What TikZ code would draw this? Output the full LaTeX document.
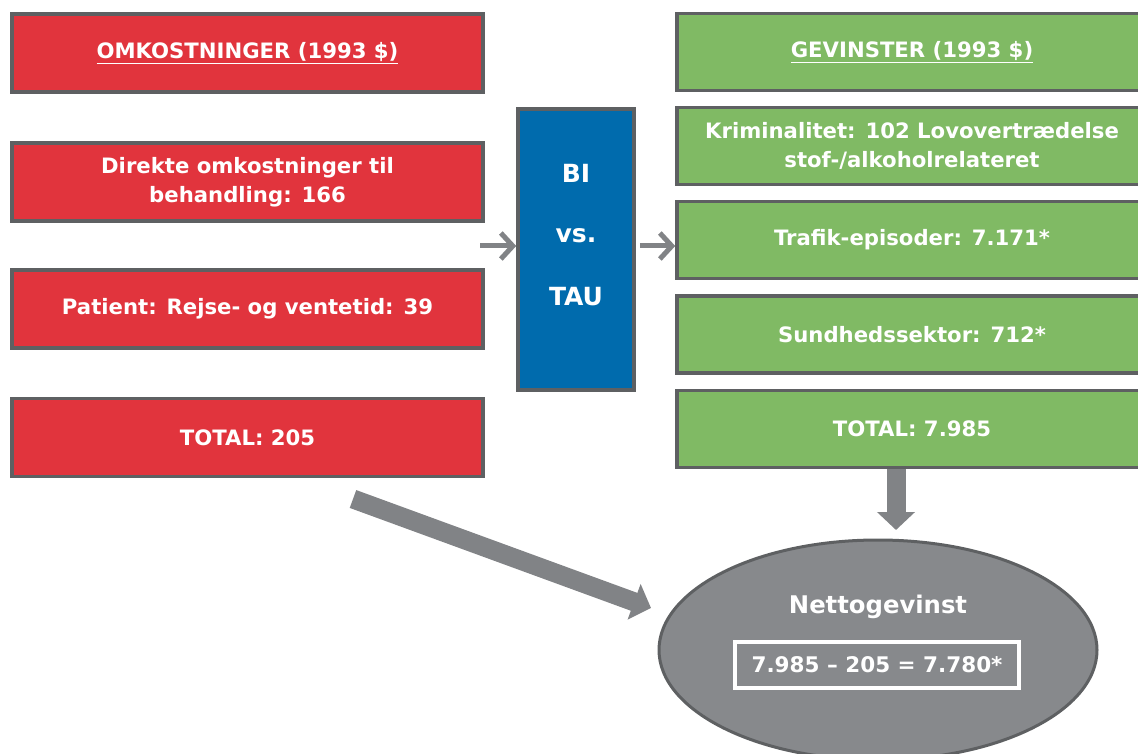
\documentclass[tikz,border=0pt]{standalone}
\usepackage{fontspec}
\setmainfont{DejaVu Sans}
\usetikzlibrary{arrows.meta,shapes.geometric}
\definecolor{cred}{HTML}{E1343D}
\definecolor{cgreen}{HTML}{80BA64}
\definecolor{cblue}{HTML}{006BAD}
\definecolor{cgray}{HTML}{87898C}
\definecolor{cborder}{HTML}{5E6062}
\definecolor{carrow}{HTML}{818386}
\tikzset{
  x=1pt,y=-1pt,
  box/.style={draw=cborder,line width=3.5pt,text=white,font=\fontsize{21.2}{29}\selectfont\bfseries,align=center,inner sep=0pt},
  redbox/.style={box,fill=cred,minimum width=471pt,minimum height=78pt},
  greenbox/.style={box,fill=cgreen,minimum width=470pt,minimum height=77pt},
  bilabel/.style={text=white,font=\fontsize{25}{30}\selectfont\bfseries,inner sep=0pt},
  thinarrow/.style={draw=carrow,line width=5pt,-{Straight Barb[length=12pt,width=26pt]}},
  blockarrow/.style={draw=carrow,line width=19pt,-{Triangle[length=18pt,width=37pt]}},
}
\begin{document}
\begin{tikzpicture}
\useasboundingbox (0,0) rectangle (1138,754);
% left column
\node[redbox] (r1) at (247.5,53) {\underline{OMKOSTNINGER (1993 \$)}};
\node[redbox] (r2) at (247.5,182) {Direkte omkostninger til\\behandling: 166};
\node[redbox] (r3) at (247.5,309) {Patient: Rejse- og ventetid: 39};
\node[redbox] (r4) at (247.5,437.5) {TOTAL: 205};
% middle
\node[box,fill=cblue,minimum width=116pt,minimum height=281pt] (bi) at (576,249.5) {};
\node[bilabel] (t1) at (576,173) {BI};
\node[bilabel] (t2) at (576,236) {vs.};
\node[bilabel] (t3) at (576,297) {TAU};
% right column
\node[greenbox] (g1) at (912,52) {\underline{GEVINSTER (1993 \$)}};
\node[greenbox] (g2) at (912,146) {Kriminalitet: 102 Lovovertrædelse\\stof-/alkoholrelateret};
\node[greenbox] (g3) at (912,240) {Trafik-episoder: 7.171*};
\node[greenbox] (g4) at (912,334.5) {Sundhedssektor: 712*};
\node[greenbox] (g5) at (912,429) {TOTAL: 7.985};
% ellipse
\node[ellipse,draw=cborder,line width=3pt,fill=cgray,minimum width=438pt,minimum height=220pt,inner sep=0pt] (net) at (878,650) {};
\node[text=white,font=\fontsize{24.3}{28}\selectfont\bfseries] (nt) at (878,607) {Nettogevinst};
\node[draw=white,line width=3.5pt,text=white,font=\fontsize{21.5}{25}\selectfont\bfseries,minimum width=284pt,minimum height=46pt,inner sep=0pt] (eq) at (877,665) {7.985 – 205 = 7.780*};
% arrows
\coordinate (la) at (480,246);
\draw[thinarrow] (la) -- (la -| bi.west);
\coordinate (ra) at (bi.east |- 0,246);
\draw[thinarrow] ([xshift=4pt]ra) -- (ra -| g3.west);
\coordinate (dtip) at (896,530);
\draw[blockarrow] (g5.south -| dtip) -- (dtip);
\coordinate (ds) at (353,499);
\coordinate (dt) at (651,608);
\draw[blockarrow] (ds) -- (dt);
\end{tikzpicture}
\end{document}
